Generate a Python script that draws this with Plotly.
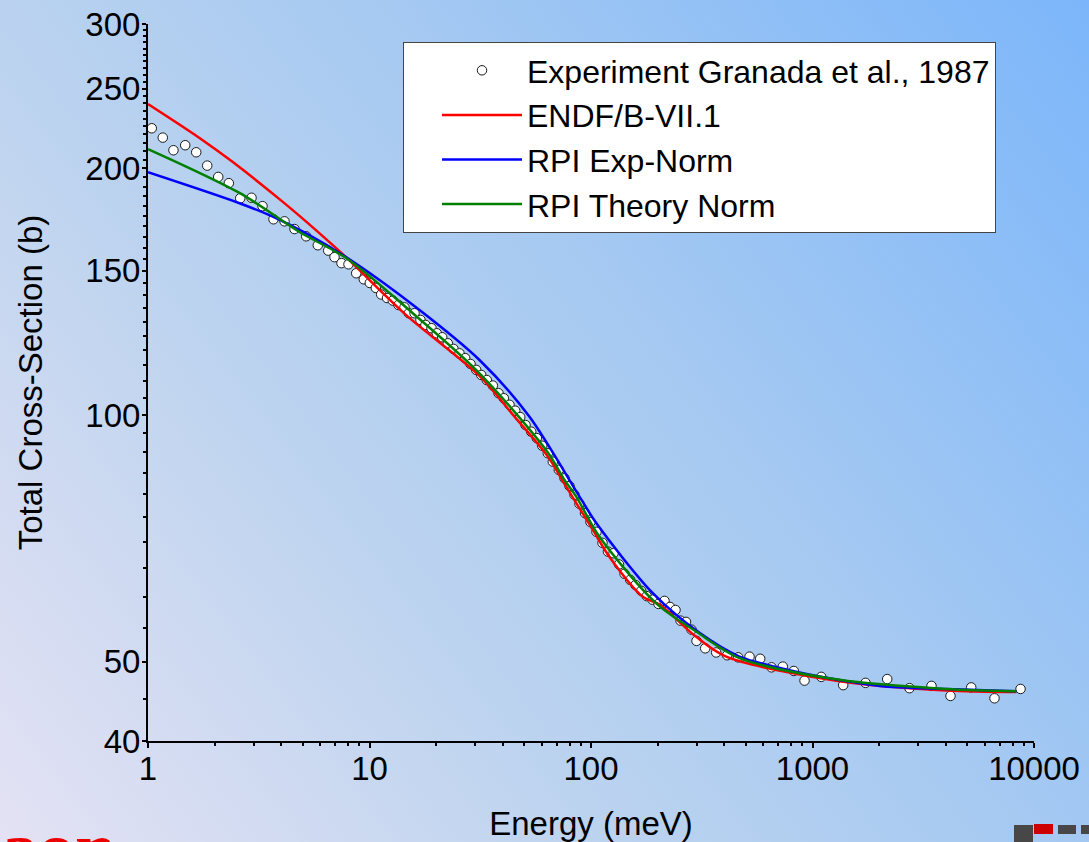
import base64
import plotly.graph_objects as go

# ---------------- data ----------------
exp_energy_meV = [1.040, 1.166, 1.303, 1.472, 1.651, 1.851, 2.075, 2.317, 2.608, 2.933,
                  3.288, 3.686, 4.133, 4.586, 5.178, 5.843, 6.510, 6.950, 7.475, 8.037,
                  8.709, 9.425, 10.03, 10.68, 11.29, 12.00, 12.74, 13.52, 14.39, 15.05,
                  15.97, 16.99, 17.89, 19.05, 20.13, 21.29, 22.57, 23.94, 25.48, 27.04,
                  28.58, 30.32, 31.94, 33.85, 36.04, 38.23, 40.40, 42.86, 45.48, 47.91,
                  50.62, 53.71, 56.92, 60.21, 63.82, 67.22, 71.56, 75.92, 79.97, 84.24,
                  88.73, 93.96, 99.48, 105.9, 112.7, 119.3, 126.4, 133.8, 141.7, 150.3,
                  158.8, 168.5, 178.6, 189.5, 201.7, 214.7, 227.3, 240.7, 253.6, 268.5,
                  284.3, 299.5, 327.8, 367.5, 412.0, 461.7, 519.6, 580.6, 653.0, 734.4,
                  823.4, 920.5, 1095, 1376, 1735, 2174, 2741, 3445, 4198, 5206, 6632, 8692]
exp_sigma_b = [223.8, 218.0, 210.4, 213.4, 209.2, 201.5, 195.2, 191.8, 183.8, 184.1,
               179.8, 173.3, 172.3, 168.6, 165.2, 161.1, 158.7, 155.8, 153.2, 152.7,
               148.9, 146.4, 144.9, 142.9, 140.3, 138.9, 137.9, 136.2, 135.3, 133.1,
               133.1, 130.6, 128.8, 127.6, 125.8, 124.4, 122.3, 120.4, 118.9, 117.3,
               115.4, 113.5, 111.9, 110.3, 108.6, 106.3, 104.8, 102.9, 101.2, 99.4,
               97.2, 95.4, 93.7, 91.7, 89.8, 87.7, 85.7, 83.7, 81.9, 79.9,
               77.9, 75.9, 74.0, 72.0, 69.8, 68.1, 67.8, 65.7, 64.0, 62.9,
               62.0, 61.0, 60.1, 59.5, 58.8, 59.3, 58.3, 57.8, 56.1, 55.9,
               54.7, 53.0, 51.9, 51.3, 50.9, 50.6, 50.7, 50.4, 49.2, 49.3,
               48.7, 47.4, 47.9, 46.8, 47.1, 47.6, 46.4, 46.7, 45.4, 46.5, 45.1, 46.3]

endf_energy_meV = [1, 1.708, 2.415, 4.061, 5.746, 7.849, 14.65, 31.37, 44.36, 63.62, 75.92,
                   101.9, 121.2, 171.3, 203.8, 298.5, 407.7, 1324, 4014, 8336]
endf_sigma_b = [239.6, 217.8, 203.5, 182.0, 168.0, 155.7, 132.4, 111.6, 100.1, 89.1, 82.4,
                72.4, 67.1, 60.0, 58.7, 53.6, 50.7, 47.3, 46.1, 45.9]

rpi_exp_energy_meV = [1, 2.589, 3.659, 5.178, 8.408, 16.82, 31.37, 52.77, 88.73, 105.6,
                      190.1, 309.0, 468.2, 787.3, 1193, 2007, 4014, 8336]
rpi_exp_sigma_b = [197.8, 181.3, 174.6, 166.6, 153.9, 134.3, 116.7, 99.5, 79.5, 73.8,
                   60.6, 54.2, 50.7, 48.8, 47.7, 46.7, 46.3, 46.0]

rpi_theory_energy_meV = [1, 2.589, 4.830, 7.849, 15.68, 31.37, 63.62, 75.92, 85.76, 109.2,
                         197.0, 298.5, 468.2, 1324, 4014, 8336]
rpi_theory_sigma_b = [211.1, 186.6, 167.2, 155.4, 133.1, 112.4, 90.1, 83.3, 79.5, 71.0,
                      58.9, 54.4, 50.5, 47.5, 46.3, 46.0]

x_tick_vals = [1, 10, 100, 1000, 10000]
x_tick_text = ["1", "10", "100", "1000", "10000"]
y_tick_vals = [40, 50, 100, 150, 200, 250, 300]
y_tick_text = ["40", "50", "100", "150", "200", "250", "300"]

# ---------------- styling ----------------
FONT = "Liberation Sans, Arial, sans-serif"
W, H = 1089, 842
ML, MR, MT, MB = 148, 55, 24, 101
PW, PH = W - ML - MR, H - MT - MB
Y_RANGE = [1.60206, 2.47712]   # log10(40) .. log10(300)

x_minor = [m * d for d in (1, 10, 100, 1000) for m in range(2, 10)]
y_minor = [v for v in range(45, 300, 5) if v not in y_tick_vals]

line_style = dict(width=2.5, shape="spline", smoothing=0.85)

fig = go.Figure()
fig.add_trace(go.Scatter(
    x=exp_energy_meV, y=exp_sigma_b, mode="markers",
    name="Experiment Granada et al., 1987",
    marker=dict(symbol="circle", size=9.5, color="white",
                line=dict(color="#1a1a1a", width=1))))
fig.add_trace(go.Scatter(x=endf_energy_meV, y=endf_sigma_b, mode="lines", name="ENDF/B-VII.1",
                         line=dict(color="#ff0000", **line_style)))
fig.add_trace(go.Scatter(x=rpi_exp_energy_meV, y=rpi_exp_sigma_b, mode="lines",
                         name="RPI Exp-Norm", line=dict(color="#0000ff", **line_style)))
fig.add_trace(go.Scatter(x=rpi_theory_energy_meV, y=rpi_theory_sigma_b, mode="lines",
                         name="RPI Theory Norm", line=dict(color="#008000", **line_style)))

# background gradient (slide background)
svg = ('<svg xmlns="http://www.w3.org/2000/svg" width="%d" height="%d" viewBox="0 0 %d %d" '
       'preserveAspectRatio="none"><defs><linearGradient id="g" x1="0" y1="%d" x2="%d" y2="0" '
       'gradientUnits="userSpaceOnUse">'
       '<stop offset="0" stop-color="#e4e2f4"/><stop offset="0.35" stop-color="#bcd3ef"/>'
       '<stop offset="0.62" stop-color="#a3c8f2"/><stop offset="1" stop-color="#7cb6fa"/>'
       '</linearGradient></defs><rect width="%d" height="%d" fill="url(#g)"/></svg>'
       % (W, H, W, H, H, W, W, H))
src = "data:image/svg+xml;base64," + base64.b64encode(svg.encode()).decode()


def px_x(p):
    return (p - ML) / PW


def px_y(p):
    return (MT + PH - p) / PH


axis_common = dict(showgrid=False, zeroline=False, showline=True, linecolor="black",
                   linewidth=2, tickcolor="black", tickwidth=2, automargin=False,
                   tickfont=dict(family=FONT, size=33, color="black"))

fig.update_layout(
    template="none",
    width=W, height=H,
    margin=dict(l=ML, r=MR, t=MT, b=MB, autoexpand=False),
    paper_bgcolor="rgba(0,0,0,0)", plot_bgcolor="rgba(0,0,0,0)",
    font=dict(family=FONT, color="black"),
    images=[dict(source=src, xref="paper", yref="paper", x=px_x(0), y=px_y(0),
                 sizex=W / PW, sizey=H / PH, xanchor="left", yanchor="top",
                 sizing="stretch", layer="below")],
    xaxis=dict(type="log", range=[0, 4], tickvals=x_tick_vals, ticktext=x_tick_text,
               ticks="outside", ticklen=5, ticklabelstandoff=-8,
               minor=dict(tickvals=x_minor, ticks="outside", ticklen=3, tickwidth=1.5,
                          tickcolor="black", showgrid=False),
               title=dict(text="Energy (meV)", font=dict(family=FONT, size=33), standoff=32),
               **axis_common),
    yaxis=dict(type="log", range=Y_RANGE, tickvals=y_tick_vals, ticktext=y_tick_text,
               ticks="outside", ticklen=4, ticklabelstandoff=-5,
               minor=dict(tickvals=y_minor, ticks="outside", ticklen=3, tickwidth=1.5,
                          tickcolor="black", showgrid=False),
               title=dict(text="Total Cross-Section (b)", font=dict(family=FONT, size=33),
                          standoff=33),
               **axis_common),
    xaxis2=dict(type="log", range=[0, 4], overlaying="x", side="top", anchor="y",
                tickvals=x_tick_vals, showticklabels=False, ticks="inside", ticklen=6,
                minor=dict(tickvals=x_minor, ticks="inside", ticklen=3, tickwidth=1.5,
                           tickcolor="black", showgrid=False),
                **axis_common),
    yaxis2=dict(type="log", range=Y_RANGE, overlaying="y", side="right", anchor="x",
                tickvals=y_tick_vals, showticklabels=False, ticks="inside", ticklen=5,
                minor=dict(tickvals=y_minor, ticks="inside", ticklen=3, tickwidth=1.5,
                           tickcolor="black", showgrid=False),
                **axis_common),
    legend=dict(x=px_x(403), y=px_y(42), xanchor="left", yanchor="top",
                bgcolor="white", bordercolor="#444444", borderwidth=1,
                font=dict(family=FONT, size=32, color="black"),
                itemwidth=80, tracegroupgap=0, indentation=33),
    showlegend=True,
    annotations=[dict(text="<b>aon</b>", xref="paper", yref="paper", x=px_x(-1), y=px_y(891),
                      xanchor="left", yanchor="bottom", showarrow=False,
                      font=dict(family="Liberation Serif, Times New Roman, serif", size=74,
                                color="#ee0000"))],
    shapes=[
        dict(type="rect", xref="paper", yref="paper", x0=px_x(1014), x1=px_x(1033),
             y0=px_y(842), y1=px_y(825), fillcolor="#474747", line=dict(width=0)),
        dict(type="rect", xref="paper", yref="paper", x0=px_x(1034), x1=px_x(1053),
             y0=px_y(834), y1=px_y(824), fillcolor="#cc0000", line=dict(width=0)),
        dict(type="rect", xref="paper", yref="paper", x0=px_x(1058), x1=px_x(1076),
             y0=px_y(834), y1=px_y(825), fillcolor="#474747", line=dict(width=0)),
        dict(type="rect", xref="paper", yref="paper", x0=px_x(1081), x1=px_x(1092),
             y0=px_y(834), y1=px_y(825), fillcolor="#474747", line=dict(width=0)),
    ],
)

fig.write_html("out.html",
               config={"displayModeBar": False},
               post_script="document.body.style.margin='0px';"
                           "document.body.style.overflow='hidden';")
